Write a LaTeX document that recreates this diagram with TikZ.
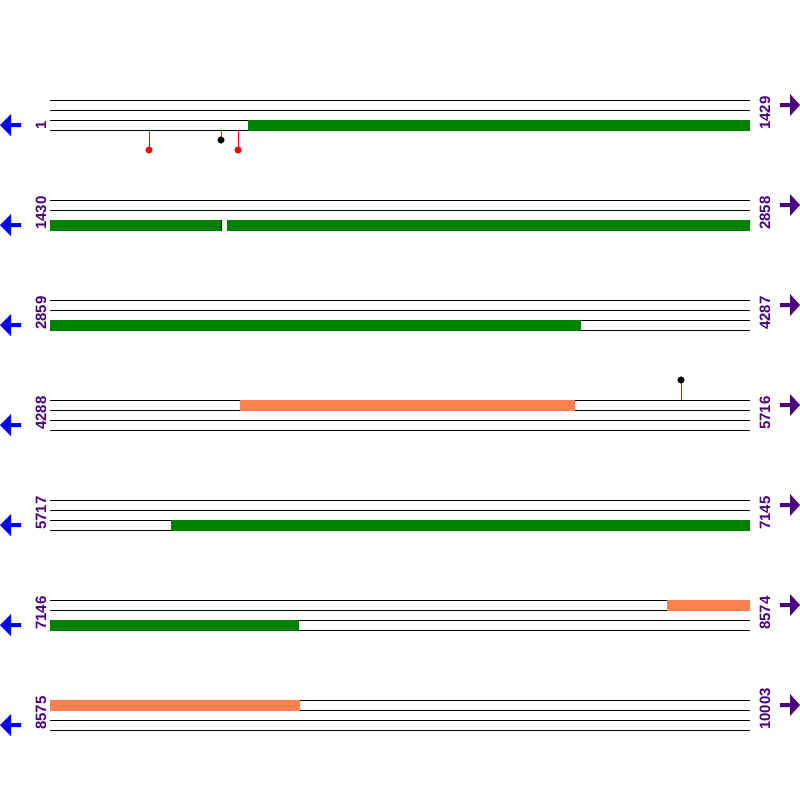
\documentclass[tikz,border=0pt]{standalone}
\usepackage{fontspec}
\setmainfont{Liberation Sans}
\definecolor{seqgreen}{HTML}{008000}
\definecolor{seqorange}{HTML}{FF7F50}
\definecolor{seqpurple}{HTML}{4B0082}
\definecolor{seqblue}{HTML}{0000FF}

\begin{document}
\begin{tikzpicture}[line cap=butt,line join=miter,x=1pt,y=-1pt,
	numlabel/.style={rotate=90,anchor=west,inner sep=0pt,text=seqpurple,font=\fontsize{15}{15}\selectfont\bfseries}]
			\useasboundingbox (0,0) rectangle (800,800);
			% strands, numbers and arrows of each row
			\foreach \r/\a/\b in {0/1/1429,1/1430/2858,2/2859/4287,3/4288/5716,4/5717/7145,5/7146/8574,6/8575/10003}{
				\foreach \k in {0,...,3}
					\draw[line width=1pt] (50,100*\r+100+10*\k) -- (750,100*\r+100+10*\k);
				\node[numlabel] (start\r) at (41,100*\r+130) {\a};
				\node[numlabel] (end\r) at (765,100*\r+130) {\b};
				\fill[seqblue] (0,100*\r+125) -- (11,100*\r+114) -- (11,100*\r+123) -- (21,100*\r+123)
					-- (21,100*\r+127) -- (11,100*\r+127) -- (11,100*\r+136) -- cycle;
				\fill[seqpurple] (800,100*\r+105) -- (790,100*\r+94) -- (790,100*\r+103) -- (780,100*\r+103)
					-- (780,100*\r+107) -- (790,100*\r+107) -- (790,100*\r+116) -- cycle;
			}
			% bars
			\fill[seqgreen] (248,119.5) rectangle (750,130.5);
			\fill[seqgreen] (50,219.5) rectangle (221,230.5);
			\fill[white] (221,219.5) rectangle (227,230.5);
			\draw[line width=0.8pt] (221.4,219.5) -- (221.4,230.5);
			\fill[seqgreen] (227,219.5) rectangle (750,230.5);
			\fill[seqgreen] (50,319.5) rectangle (581,330.5);
			\fill[seqorange] (240,399.5) rectangle (575,410.5);
			\fill[seqgreen] (171,519.5) rectangle (750,530.5);
			\fill[seqorange] (667,599.5) rectangle (750,610.5);
			\fill[seqgreen] (50,619.5) rectangle (299,630.5);
			\fill[seqorange] (50,699.5) rectangle (300,710.5);
			% sites
			\draw[red,line width=1pt] (149,130) -- (149,150);
			\draw[red,line width=1pt] (221,130) -- (221,140);
			\draw[red,line width=1pt] (238,130) -- (238,150);
			\draw[red,line width=1pt] (681,400) -- (681,380);
			\filldraw[color=red] (149,150) circle(3.3);
			\filldraw[color=black] (221,140) circle(3.3);
			\filldraw[color=red] (238,150) circle(3.3);
			\filldraw[color=black] (681,380) circle(3.3);
\end{tikzpicture}
\end{document}
